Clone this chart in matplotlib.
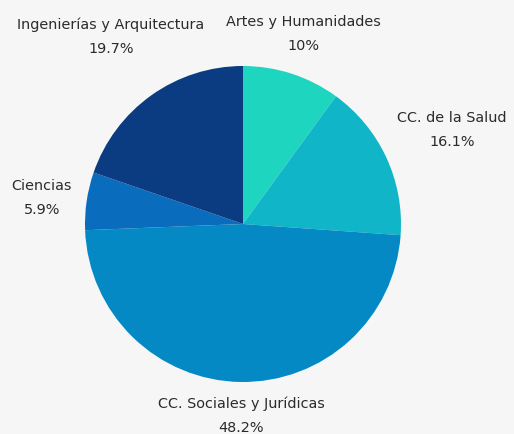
import matplotlib
matplotlib.use("Agg")
import matplotlib.pyplot as plt

categories = ["Artes y Humanidades", "CC. de la Salud", "CC. Sociales y Jurídicas",
              "Ciencias", "Ingenierías y Arquitectura"]
values = [10, 16.1, 48.2, 5.9, 19.7]
pct_labels = ["10%", "16.1%", "48.2%", "5.9%", "19.7%"]
colors = ["#1ed6c0", "#10b6c8", "#0489c4", "#0a6cbd", "#0b3b80"]

# where each label block sits (pixel centres of the two lines, from top-left)
label_pos = [(303, 22), (452, 118), (241, 404), (42, 186), (111, 25)]

W, H = 514, 435
fig = plt.figure(figsize=(W / 100, H / 100), dpi=100)
fig.patch.set_facecolor("#f6f6f6")

cx, cy, r = 243, 225, 158
ax = fig.add_axes([(cx - r) / W, (H - cy - r) / H, 2 * r / W, 2 * r / H])
ax.pie(values, colors=colors, startangle=90, counterclock=False, radius=1,
       wedgeprops=dict(linewidth=0))
ax.set_xlim(-1, 1)
ax.set_ylim(-1, 1)
ax.set_aspect("equal")
ax.axis("off")

for cat, pct, (x, y) in zip(categories, pct_labels, label_pos):
    fig.text(x / W, 1 - y / H, cat, ha="center", va="center",
             fontsize=10.4, color="#2b2b2b", family="DejaVu Sans")
    fig.text(x / W, 1 - (y + 24) / H, pct, ha="center", va="center",
             fontsize=10.4, color="#2b2b2b", family="DejaVu Sans")

fig.savefig("out.png", dpi=100, facecolor=fig.get_facecolor())
